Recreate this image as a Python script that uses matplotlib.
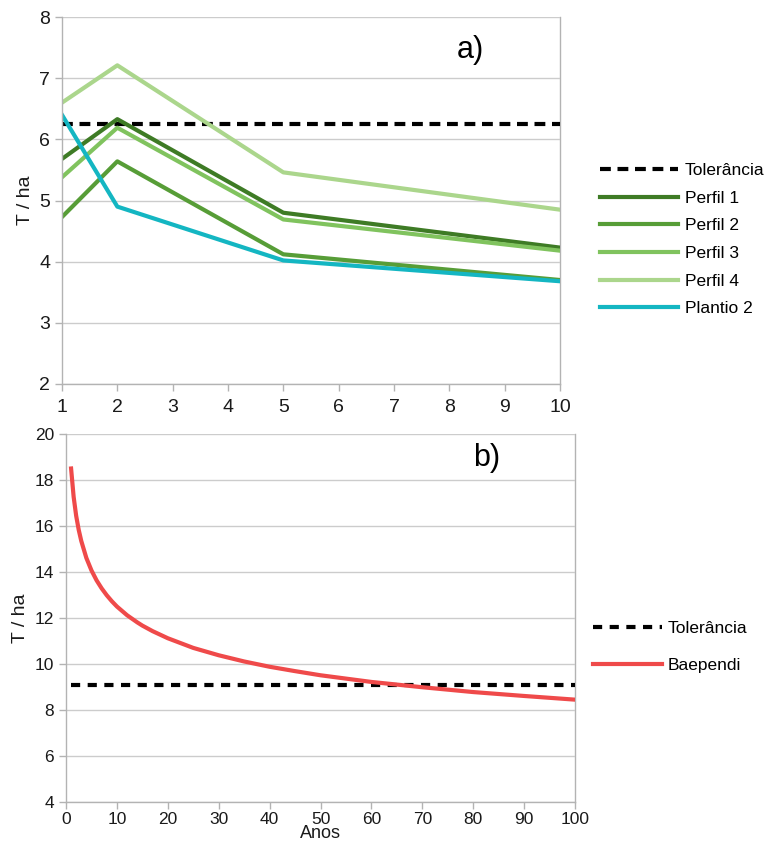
import matplotlib
matplotlib.use("Agg")
import matplotlib.pyplot as plt

plt.rcParams['font.family'] = ['Liberation Sans', 'DejaVu Sans']

# Panel a) soil loss per profile
years_a = [1, 2, 5, 10]
tolerance_a = 6.25
perfil_1 = [5.68, 6.33, 4.80, 4.23]
perfil_2 = [4.73, 5.64, 4.12, 3.70]
perfil_3 = [5.38, 6.19, 4.69, 4.18]
perfil_4 = [6.60, 7.21, 5.46, 4.85]
plantio_2 = [6.40, 4.90, 4.02, 3.68]

# Panel b) Baependi
years_b = [1, 1.5, 2, 2.5, 3, 4, 5, 6, 7, 8, 9, 10, 12, 14, 15, 17, 20, 25, 30,
           35, 40, 45, 50, 60, 70, 80, 90, 100]
baependi = [18.5, 17.27, 16.44, 15.83, 15.35, 14.61, 14.07, 13.64, 13.29, 12.99,
            12.73, 12.50, 12.12, 11.81, 11.67, 11.43, 11.12, 10.70, 10.38, 10.11,
            9.88, 9.69, 9.51, 9.22, 8.99, 8.78, 8.61, 8.45]
tolerance_b = 9.1

grid_c = '#cccccc'
spine_c = '#b3b3b3'

fig = plt.figure(figsize=(7.69, 8.43), dpi=100)

ax1 = fig.add_axes([62/769, 1-384/843, 498/769, 367/843])
ax2 = fig.add_axes([66/769, 1-802/843, 509/769, 368/843])

def style(ax, fs):
    for s in ax.spines.values():
        s.set_color(spine_c)
        s.set_linewidth(1.0)
    ax.spines['top'].set_visible(False)
    ax.spines['right'].set_visible(False)
    ax.yaxis.grid(True, color=grid_c, linewidth=1.0)
    ax.set_axisbelow(True)
    ax.tick_params(axis='both', colors=spine_c, labelcolor='#1a1a1a', labelsize=fs,
                   length=5, width=1.0)

ax1.plot(years_a, [tolerance_a]*len(years_a), color='black', lw=3.0, ls='--', dashes=(2.6, 1.6), label='Tolerância')
ax1.plot(years_a, perfil_1, color='#3e7b25', lw=3.0, label='Perfil 1')
ax1.plot(years_a, perfil_2, color='#579d37', lw=3.0, label='Perfil 2')
ax1.plot(years_a, perfil_3, color='#80c35e', lw=3.0, label='Perfil 3')
ax1.plot(years_a, perfil_4, color='#abd68c', lw=3.0, label='Perfil 4')
ax1.plot(years_a, plantio_2, color='#14b6c2', lw=3.0, label='Plantio 2')
ax1.set_xlim(1, 10)
ax1.set_ylim(2, 8)
ax1.set_xticks(range(1, 11))
ax1.set_yticks(range(2, 9))
style(ax1, 14)
ax1.tick_params(axis='x', pad=6)
ax1.plot([10, 10], [2, 8], color=spine_c, lw=1.0, clip_on=False, zorder=0)
ax1.set_ylabel('T / ha', fontsize=14, color='#1a1a1a', labelpad=4)
ax1.text(0.82, 0.91, 'a)', transform=ax1.transAxes, fontsize=22, ha='center', va='center')
ax1.legend(loc='upper left', bbox_to_anchor=(593/769, 1-156/843), bbox_transform=fig.transFigure,
           frameon=False, fontsize=12.5, handlelength=4.5, handletextpad=0.4, labelspacing=0.72,
           borderaxespad=0)

ax2.plot([1, 100], [tolerance_b, tolerance_b], color='black', lw=3.0, ls='--', dashes=(2.2, 1.8), label='Tolerância')
ax2.plot(years_b, baependi, color='#ef4a4a', lw=3.0, label='Baependi')
ax2.set_xlim(0, 100)
ax2.set_ylim(4, 20)
ax2.set_xticks(range(0, 101, 10))
ax2.set_yticks(range(4, 21, 2))
style(ax2, 12.5)
ax2.tick_params(axis='x', pad=2)
ax2.plot([100, 100], [4, 20], color=spine_c, lw=1.0, clip_on=False, zorder=0)
ax2.set_ylabel('T / ha', fontsize=14, color='#1a1a1a', labelpad=4)
ax2.set_xlabel('Anos', fontsize=13, color='#1a1a1a', labelpad=-1)
ax2.text(0.827, 0.935, 'b)', transform=ax2.transAxes, fontsize=22, ha='center', va='center')
ax2.legend(loc='upper left', bbox_to_anchor=(586/769, 1-614/843), bbox_transform=fig.transFigure,
           frameon=False, fontsize=12.5, handlelength=4.0, handletextpad=0.3, labelspacing=1.25,
           borderaxespad=0)

fig.savefig('out.png', dpi=100)
